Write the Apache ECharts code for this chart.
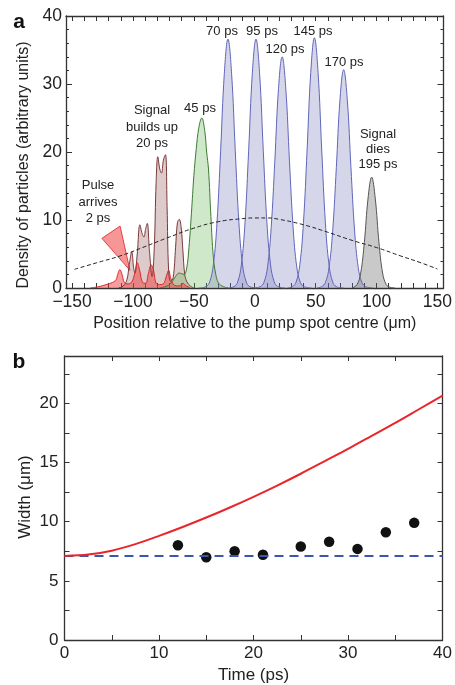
<!DOCTYPE html>
<html>
<head>
<meta charset="utf-8">
<script src="https://cdn.jsdelivr.net/npm/echarts@6/dist/echarts.min.js"></script>
<style>
html, body { margin: 0; padding: 0; background: #fff; }
#chart { width: 455px; height: 685px; }
</style>
</head>
<body>
<div id="chart"></div>
<script>
const FONT = '"Liberation Sans", Arial, Helvetica, sans-serif';

// panel a: density peaks, [position (µm), density]
const pulse2ps = [[-135,0],[-128,0.2],[-122,0.5],[-117,0.8],[-114,1.2],[-112.5,2.0],[-110.8,2.7],[-109,2.0],[-107,0.8],[-104,0.6],[-101,0.9],[-98.5,2.2],[-96.5,3.7],[-94.5,2.6],[-92,0.8],[-89.5,0.7],[-87.5,2.0],[-85,3.4],[-83,2.5],[-81,0.7],[-78,0.5],[-75,0.6],[-72.5,1.8],[-70.7,2.6],[-69,1.5],[-66,0.4],[-62,0.3],[-59,0.7],[-57,0.4],[-53,0]];
const builds20ps = [[-112,0],[-108,0.3],[-105,1.2],[-103,3.5],[-101,5.3],[-99.5,3.0],[-98.4,2.2],[-96.5,5.0],[-94.3,9.3],[-92.5,8.0],[-91,7.5],[-89.7,8.6],[-88.3,9.5],[-86.5,5.5],[-84.3,1.7],[-82.5,6.0],[-81,15.5],[-79.6,19.3],[-78,17.5],[-76.6,16.9],[-75,18.8],[-73.3,19.6],[-72,12],[-70.7,2.5],[-69,1.0],[-67,1.5],[-65,6.0],[-63.5,9.6],[-62,10.1],[-60.5,9.0],[-59,5.5],[-57.5,2.0],[-55.7,0.9],[-53,0.3],[-50,0]];
const peak45ps = [[-78,0],[-72,0.3],[-68,0.9],[-65,1.7],[-62,2.2],[-60,2.1],[-58,2.0],[-56,2.8],[-54,6],[-52,11],[-50,16.5],[-48,20.5],[-46,23.5],[-43.5,25],[-41,23],[-39.5,20],[-38,17.5],[-36,10.5],[-34,4.5],[-32,2],[-30,0.8],[-27,0.3],[-22,0]];
const peak70ps = [[-46,0],[-40,0.2],[-37,0.9],[-34,3.4],[-31,9.6],[-28,20.2],[-25,31.5],[-22,36.6],[-19,31.5],[-16,20.2],[-13,9.6],[-10,3.4],[-7,0.9],[-4,0.2],[2,0]];
const peak95ps = [[-23,0],[-17,0.2],[-14,0.9],[-11,3.4],[-8,9.6],[-5,20.2],[-2,31.5],[1,36.6],[4,31.5],[7,20.2],[10,9.6],[13,3.4],[16,0.9],[19,0.2],[25,0]];
const peak120ps = [[0.5,0],[4.5,0.2],[7.5,0.8],[10.5,3.1],[13.5,8.9],[16.5,18.7],[19.5,29.3],[22.5,34.0],[25.5,29.3],[28.5,18.7],[31.5,8.9],[34.5,3.1],[37.5,0.8],[40.5,0.2],[46.5,0]];
const peak145ps = [[27,0],[31,0.2],[34,0.9],[37,3.4],[40,9.6],[43,20.3],[46,31.7],[49,36.8],[52,31.7],[55,20.3],[58,9.6],[61,3.4],[64,0.9],[67,0.2],[73,0]];
const peak170ps = [[51,0],[55,0.2],[58,0.8],[61,3.0],[64,8.4],[67,17.7],[70,27.7],[73,32.1],[76,27.7],[79,17.7],[82,8.4],[85,3.0],[88,0.8],[91,0.2],[97,0]];
const peak195ps = [[80,0],[84,0.5],[87,2.2],[90,6.7],[93,13.1],[96,16.3],[99,13.1],[102,6.7],[105,2.2],[108,0.5],[111,0.1],[115,0]];
const pumpProfile = [[-148,2.75],[-130,3.7],[-110,4.75],[-90,6.1],[-70,7.5],[-50,8.8],[-30,9.75],[-10,10.2],[0,10.3],[10,10.3],[20,10.1],[40,9.3],[60,8.2],[80,7.0],[100,5.95],[120,4.7],[135,3.8],[150,2.8]];
const pulseArrow = [[-125.5,7.3],[-110.6,9.1],[-102.5,2.6]];

const posLabels = [-150, -100, -50, 0, 50, 100, 150];
const posTicks = [-150,-140,-130,-120,-110,-100,-90,-80,-70,-60,-50,-40,-30,-20,-10,0,10,20,30,40,50,60,70,80,90,100,110,120,130,140,150];

// panel b: width vs time
const gaussWidth = [[0,7.1],[2.5,7.22],[5,7.55],[7.5,8.1],[10,8.8],[12.5,9.55],[15,10.35],[17.5,11.2],[20,12.1],[22.5,13.05],[25,14.05],[27.5,15.1],[30,16.15],[32.5,17.25],[35,18.35],[37.5,19.5],[40,20.65]];
const initialWidth = [[0,7.1],[40,7.1]];
const measuredWidth = [[12,8.0],[15,7.0],[18,7.5],[21,7.2],[25,7.9],[28,8.3],[31,7.7],[34,9.1],[37,9.9]];
const widthLabels = [0, 5, 10, 15, 20];
const widthTicks = [0, 2.5, 5, 7.5, 10, 12.5, 15, 17.5, 20, 22.5];

const AX = '#333';
const TXT = '#222';
const minus = v => String(v).replace('-', '\u2212');

function peak(data, line, fill) {
  return {
    type: 'line', xAxisIndex: 0, yAxisIndex: 0, data: data,
    smooth: 0.4, showSymbol: false, symbol: 'none', silent: true,
    lineStyle: { color: line, width: 1 },
    areaStyle: { color: fill, opacity: 1 }
  };
}

function txt(x, y, text, size, extra) {
  return {
    type: 'text', x: x, y: y, rotation: (extra && extra.rotation) || 0,
    style: {
      text: text, font: ((extra && extra.weight) || 'normal') + ' ' + size + 'px ' + FONT,
      fill: (extra && extra.fill) || TXT, align: 'center', verticalAlign: 'middle',
      lineHeight: (extra && extra.lineHeight) || size * 1.2
    }
  };
}

const chart = echarts.init(document.getElementById('chart'), null, { renderer: 'canvas' });

const option = {
  animation: false,
  backgroundColor: '#fff',
  textStyle: { fontFamily: FONT },
  grid: [
    { left: 66, top: 16, width: 382, height: 272 },
    { left: 64.5, top: 356, width: 383.5, height: 284 }
  ],
  xAxis: [
    {
      gridIndex: 0, type: 'value', position: 'bottom', min: -155, max: 155,
      axisLine: { onZero: false, lineStyle: { color: AX, width: 1.3 } },
      axisTick: { inside: true, length: 5, customValues: posTicks, lineStyle: { color: AX } },
      axisLabel: { customValues: posLabels, fontSize: 17.5, color: TXT, margin: 5, formatter: minus },
      splitLine: { show: false },
      name: 'Position relative to the pump spot centre (μm)', nameLocation: 'middle', nameGap: 28,
      nameTextStyle: { fontSize: 16, color: TXT }
    },
    {
      gridIndex: 0, type: 'value', position: 'top', min: -155, max: 155,
      axisLine: { onZero: false, lineStyle: { color: AX, width: 1.3 } },
      axisTick: { inside: true, length: 5, customValues: posTicks, lineStyle: { color: AX } },
      axisLabel: { show: false }, splitLine: { show: false }
    },
    {
      gridIndex: 1, type: 'value', position: 'bottom', min: 0, max: 40, interval: 10,
      axisLine: { onZero: false, lineStyle: { color: AX, width: 1.3 } },
      axisTick: { inside: true, length: 5, lineStyle: { color: AX } },
      minorTick: { show: true, splitNumber: 2, length: 5, lineStyle: { color: AX } },
      axisLabel: { fontSize: 17, color: TXT, margin: 5 },
      splitLine: { show: false },
      name: 'Time (ps)', nameLocation: 'middle', nameGap: 27,
      nameTextStyle: { fontSize: 17, color: TXT }
    },
    {
      gridIndex: 1, type: 'value', position: 'top', min: 0, max: 40, interval: 10,
      axisLine: { onZero: false, lineStyle: { color: AX, width: 1.3 } },
      axisTick: { inside: true, length: 5, lineStyle: { color: AX } },
      minorTick: { show: true, splitNumber: 2, length: 5, lineStyle: { color: AX } },
      axisLabel: { show: false }, splitLine: { show: false }
    }
  ],
  yAxis: [
    {
      gridIndex: 0, type: 'value', position: 'left', min: 0, max: 40, interval: 10,
      axisLine: { show: true, onZero: false, lineStyle: { color: AX, width: 1.3 } },
      axisTick: { show: true, inside: true, length: 6, lineStyle: { color: AX } },
      minorTick: { show: true, splitNumber: 5, length: 3, lineStyle: { color: AX } },
      axisLabel: { fontSize: 17.5, color: TXT, margin: 4 },
      splitLine: { show: false }
    },
    {
      gridIndex: 0, type: 'value', position: 'right', min: 0, max: 40, interval: 10,
      axisLine: { show: true, onZero: false, lineStyle: { color: AX, width: 1.3 } },
      axisTick: { show: true, inside: true, length: 6, lineStyle: { color: AX } },
      minorTick: { show: true, splitNumber: 5, length: 3, lineStyle: { color: AX } },
      axisLabel: { show: false }, splitLine: { show: false }
    },
    {
      gridIndex: 1, type: 'value', position: 'left', min: 0, max: 24,
      axisLine: { show: true, onZero: false, lineStyle: { color: AX, width: 1.3 } },
      axisTick: { show: true, inside: true, length: 5, customValues: widthTicks, lineStyle: { color: AX } },
      axisLabel: { customValues: widthLabels, fontSize: 17, color: TXT, margin: 6 },
      splitLine: { show: false }
    },
    {
      gridIndex: 1, type: 'value', position: 'right', min: 0, max: 24,
      axisLine: { show: true, onZero: false, lineStyle: { color: AX, width: 1.3 } },
      axisTick: { show: true, inside: true, length: 5, customValues: widthTicks, lineStyle: { color: AX } },
      axisLabel: { show: false }, splitLine: { show: false }
    }
  ],
  series: [
    peak(builds20ps, '#7a3a3a', 'rgba(150,90,90,0.32)'),
    peak(peak45ps, '#3d7a35', 'rgba(100,180,80,0.3)'),
    peak(pulse2ps, '#e02828', 'rgba(240,60,60,0.5)'),
    peak(peak70ps, '#6066b8', 'rgba(120,120,185,0.3)'),
    peak(peak95ps, '#6066b8', 'rgba(120,120,185,0.3)'),
    peak(peak120ps, '#6066b8', 'rgba(120,120,185,0.3)'),
    peak(peak145ps, '#6066b8', 'rgba(120,120,185,0.3)'),
    peak(peak170ps, '#6066b8', 'rgba(120,120,185,0.3)'),
    peak(peak195ps, '#555', 'rgba(100,100,100,0.35)'),
    {
      type: 'custom', xAxisIndex: 0, yAxisIndex: 0, silent: true, data: [pulseArrow[2]],
      renderItem: (params, api) => ({
        type: 'polygon',
        shape: { points: pulseArrow.map(p => api.coord(p)) },
        style: { fill: 'rgba(240,80,80,0.6)', stroke: '#e84040', lineWidth: 1 }
      })
    },
    {
      type: 'line', xAxisIndex: 0, yAxisIndex: 0, data: pumpProfile, smooth: 0.5,
      showSymbol: false, symbol: 'none', silent: true,
      lineStyle: { color: '#222', width: 1, type: [4, 2.5] }
    },
    {
      type: 'line', xAxisIndex: 2, yAxisIndex: 2, data: initialWidth,
      showSymbol: false, symbol: 'none', silent: true,
      lineStyle: { color: '#3a57ad', width: 2, type: [9, 6] }
    },
    {
      type: 'line', xAxisIndex: 2, yAxisIndex: 2, data: gaussWidth, smooth: 0.3,
      showSymbol: false, symbol: 'none', silent: true,
      lineStyle: { color: '#e8262a', width: 2 }
    },
    {
      type: 'scatter', xAxisIndex: 2, yAxisIndex: 2, data: measuredWidth,
      symbolSize: 10.5, silent: true, itemStyle: { color: '#111', opacity: 1 }
    }
  ],
  graphic: [
    txt(19, 22, 'a', 21, { weight: 'bold', fill: '#111' }),
    txt(19, 362, 'b', 21, { weight: 'bold', fill: '#111' }),
    txt(24, 165, 'Density of particles (arbitrary units)', 16, { rotation: Math.PI / 2 }),
    txt(25, 497, 'Width (μm)', 17, { rotation: Math.PI / 2 }),
    txt(98, 202, 'Pulse\narrives\n2 ps', 13, { lineHeight: 16.5 }),
    txt(152, 127, 'Signal\nbuilds up\n20 ps', 13, { lineHeight: 16.5 }),
    txt(200, 108, '45 ps', 13),
    txt(222, 31, '70 ps', 13),
    txt(262, 31.5, '95 ps', 13),
    txt(285, 49, '120 ps', 13),
    txt(313, 31, '145 ps', 13),
    txt(344, 62.5, '170 ps', 13),
    txt(378, 149, 'Signal\ndies\n195 ps', 13, { lineHeight: 15 })
  ]
};

chart.setOption(option);
</script>
</body>
</html>
